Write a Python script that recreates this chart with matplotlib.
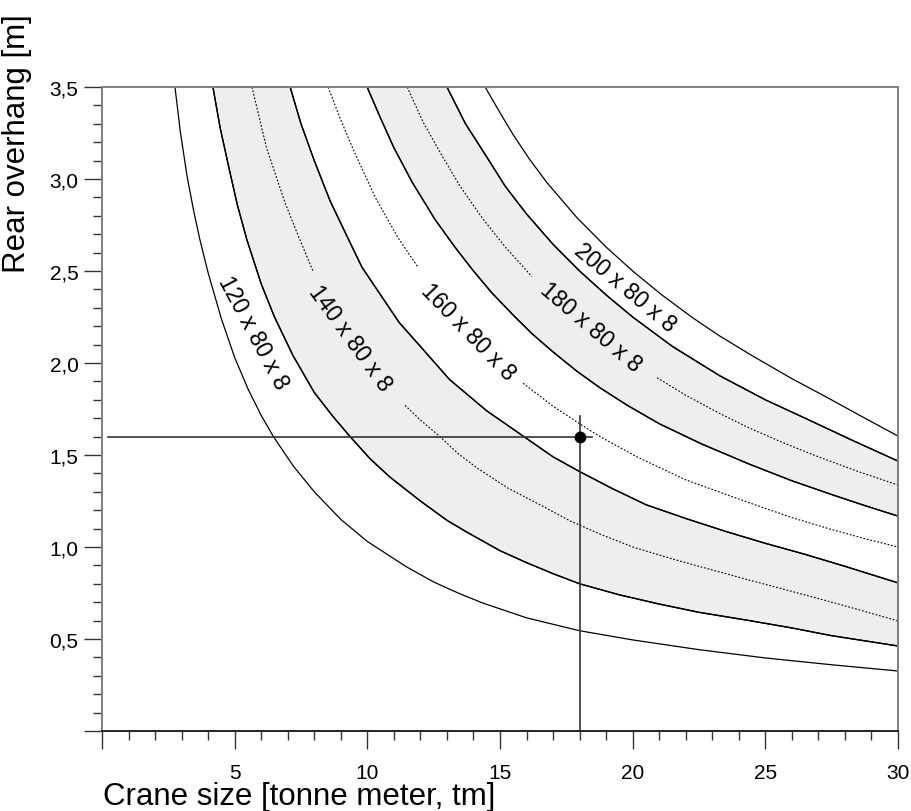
import numpy as np
import matplotlib
matplotlib.use("Agg")
import matplotlib.pyplot as plt

plt.rcParams["font.family"] = ["Liberation Sans", "DejaVu Sans"]

# curves (x = crane size, y = rear overhang); nan = gap for label
c120_x = [2.75, 2.95, 3.2, 3.45, 3.69, 4.0, 4.5, 5.0, 5.5, 6.0, 6.46, 7.21, 8.0, 9.0, 10.0,
          11.5, 12.5, 13.5, 14.36, 16.0, 18.0, 20.0, 22.5, 25.0, 27.5, 30.0]
c120_y = [3.5, 3.26, 3.02, 2.83, 2.67, 2.49, 2.24, 2.03, 1.86, 1.715, 1.6, 1.44, 1.3, 1.15, 1.03,
          0.89, 0.81, 0.745, 0.695, 0.615, 0.545, 0.495, 0.442, 0.397, 0.36, 0.326]

band1_low_x = [4.18, 4.45, 4.8, 5.1, 5.46, 6.0, 6.5, 7.2, 8.0, 8.7, 9.35, 10.1, 10.85, 12.0, 13.0,
               13.76, 15.0, 16.0, 17.0, 18.0, 19.5, 21.0, 22.5, 24.4, 26.0, 27.5, 28.75, 30.0]
band1_low_y = [3.5, 3.28, 3.05, 2.86, 2.67, 2.43, 2.25, 2.04, 1.84, 1.71, 1.6, 1.48, 1.38, 1.25, 1.145,
               1.08, 0.98, 0.915, 0.855, 0.8, 0.74, 0.69, 0.645, 0.6, 0.56, 0.518, 0.49, 0.462]

c140_x = [5.65, 6.2, 6.9, 7.4, 7.95, 9.7, 11.42, 12.0, 12.74, 13.4, 14.13, 15.3, 16.5, 17.6,
          18.77, 20.0, 21.5, 23.0, 24.4, 25.7, 27.0, 28.5, 30.0]
c140_y = [3.5, 3.17, 2.87, 2.69, 2.5, np.nan, 1.77, 1.69, 1.6, 1.51, 1.43, 1.32, 1.23, 1.145,
          1.07, 1.0, 0.935, 0.875, 0.82, 0.77, 0.72, 0.66, 0.598]

band1_high_x = [7.09, 7.5, 8.0, 8.6, 9.23, 9.8, 10.5, 11.2, 12.0, 13.1, 14.5, 15.9, 17.0, 18.0,
                19.2, 20.5, 22.0, 23.5, 25.0, 26.5, 28.0, 29.0, 30.0]
band1_high_y = [3.5, 3.3, 3.1, 2.88, 2.69, 2.52, 2.37, 2.22, 2.09, 1.91, 1.74, 1.6, 1.49, 1.41,
                1.32, 1.23, 1.155, 1.085, 1.02, 0.96, 0.895, 0.85, 0.805]

c160_x = [8.52, 9.0, 9.5, 10.3, 11.16, 11.91, 14.0, 15.87, 17.0, 18.0, 18.77, 20.16, 22.0,
          24.4, 26.0, 27.5, 28.75, 30.0]
c160_y = [3.5, 3.32, 3.15, 2.9, 2.68, 2.52, np.nan, 1.89, 1.765, 1.67, 1.6, 1.49, 1.365,
          1.24, 1.16, 1.095, 1.045, 1.0]

band2_low_x = [9.99, 10.5, 11.0, 11.7, 12.55, 13.3, 14.0, 14.7, 15.5, 16.2, 17.0, 17.9, 18.77,
               19.8, 21.0, 22.6, 24.4, 26.0, 27.5, 28.75, 30.0]
band2_low_y = [3.5, 3.33, 3.17, 2.98, 2.78, 2.63, 2.5, 2.38, 2.26, 2.16, 2.06, 1.955, 1.865,
               1.77, 1.67, 1.56, 1.45, 1.36, 1.285, 1.225, 1.168]

c180_x = [11.5, 12.1, 12.8, 13.5, 14.32, 15.2, 16.2, 18.5, 20.92, 22.0, 23.29, 24.42, 25.7,
          27.0, 28.5, 30.0]
c180_y = [3.5, 3.31, 3.13, 2.96, 2.79, 2.63, 2.47, np.nan, 1.92, 1.825, 1.725, 1.645, 1.565,
          1.49, 1.41, 1.337]

band2_high_x = [13.0, 13.7, 14.5, 15.2, 16.0, 17.0, 18.0, 19.0, 20.0, 21.5, 23.29, 25.0, 26.5,
                28.2, 30.0]
band2_high_y = [3.5, 3.3, 3.12, 2.96, 2.81, 2.645, 2.5, 2.37, 2.25, 2.09, 1.93, 1.8, 1.7,
                1.585, 1.467]

c200_x = [14.44, 15.0, 15.5, 16.1, 16.77, 17.9, 19.0, 20.0, 21.1, 22.27, 23.3, 24.5, 26.0,
          27.3, 28.6, 30.0]
c200_y = [3.5, 3.36, 3.24, 3.11, 2.98, 2.79, 2.63, 2.5, 2.37, 2.245, 2.145, 2.04, 1.915,
          1.815, 1.712, 1.603]

# labels: text, x, y, angle
curve_labels = [
    ("120 x 80 x 8", 5.69, 2.17, -62),
    ("140 x 80 x 8", 9.35, 2.14, -54),
    ("160 x 80 x 8", 13.8, 2.17, -46),
    ("180 x 80 x 8", 18.43, 2.195, -40.5),
    ("200 x 80 x 8", 19.71, 2.41, -40),
]

# example reading
point_x, point_y = 18.0, 1.6
hline_x = [0.23, 18.47]
vline_y = [0.0, 1.71]

x_ticks = [0, 5, 10, 15, 20, 25, 30]
x_labels = ["", "5", "10", "15", "20", "25", "30"]
y_ticks = [0, 0.5, 1.0, 1.5, 2.0, 2.5, 3.0, 3.5]
y_labels = ["", "0,5", "1,0", "1,5", "2,0", "2,5", "3,0", "3,5"]

fig = plt.figure(figsize=(9.12, 8.12), dpi=100)
ax = fig.add_axes([102 / 912, 80 / 812, 796 / 912, 644 / 812])

shade = "#eeeeee"
for lo_x, lo_y, hi_x, hi_y in [
    (band1_low_x, band1_low_y, band1_high_x, band1_high_y),
    (band2_low_x, band2_low_y, band2_high_x, band2_high_y),
]:
    ax.fill(
        np.concatenate([lo_x, hi_x[::-1]]),
        np.concatenate([lo_y, hi_y[::-1]]),
        facecolor=shade,
        edgecolor="black",
        linewidth=1.0,
        zorder=1,
    )

solid = dict(color="black", linewidth=0.9, zorder=2)
dotted = dict(color="black", linewidth=0.8, linestyle=(0, (1.6, 1.6)), zorder=2)

for xs, ys in [(c120_x, c120_y), (band1_low_x, band1_low_y), (band1_high_x, band1_high_y),
               (band2_low_x, band2_low_y), (band2_high_x, band2_high_y), (c200_x, c200_y)]:
    ax.plot(xs, ys, **solid)
for xs, ys in [(c140_x, c140_y), (c160_x, c160_y), (c180_x, c180_y)]:
    ax.plot(xs, ys, **dotted)

for text, lx, ly, angle in curve_labels:
    ax.text(lx, ly, text, rotation=angle, rotation_mode="anchor",
            ha="center", va="center", fontsize=16.5, zorder=3)

ax.plot(hline_x, [point_y, point_y], color="#333333", linewidth=1.2, zorder=4)
ax.plot([point_x, point_x], vline_y, color="#333333", linewidth=1.2, zorder=4)
ax.plot(point_x, point_y, "o", color="black", markersize=7.5, zorder=5)

ax.set_xlim(0, 30)
ax.set_ylim(0, 3.5)
ax.set_xticks(x_ticks)
ax.set_xticklabels(x_labels)
ax.set_xticks(np.arange(0, 31, 1), minor=True)
ax.set_yticks(y_ticks)
ax.set_yticklabels(y_labels)
ax.set_yticks(np.arange(0, 3.51, 0.1), minor=True)

ax.tick_params(axis="both", which="major", direction="out", length=13, width=1.0,
               color="#333333", labelsize=15)
ax.tick_params(axis="both", which="minor", direction="out", length=6.5, width=1.0,
               color="#333333")
ax.tick_params(axis="x", which="major", pad=10)
ax.tick_params(axis="y", which="major", pad=4)

for side in ["left", "top", "right"]:
    ax.spines[side].set_color("#808080")
    ax.spines[side].set_linewidth(1.4)
ax.spines["bottom"].set_color("#222222")
ax.spines["bottom"].set_linewidth(1.4)

fig.text(103 / 912, 7 / 812, "Crane size [tonne meter, tm]", fontsize=22.5,
         ha="left", va="baseline")
fig.text(32 / 912, (812 - 273) / 812, "Rear overhang [m]", fontsize=22.5,
         rotation=90, ha="right", va="bottom")

fig.savefig("out.png", dpi=100)
